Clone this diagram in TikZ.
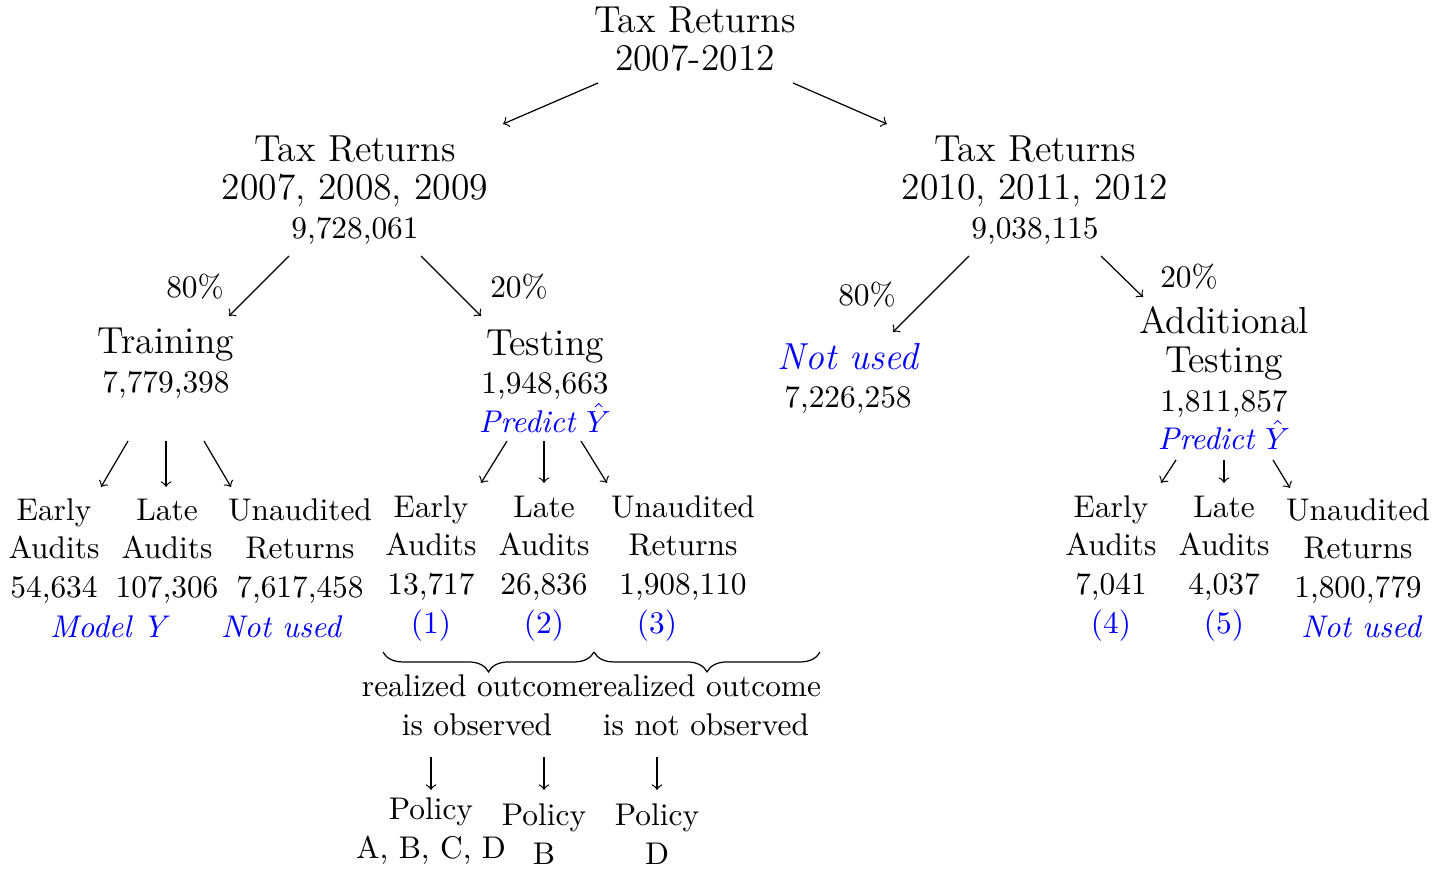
\documentclass[tikz,border=0pt]{standalone}
\usetikzlibrary{decorations.pathreplacing}
\newcommand{\bigf}{\fontsize{12.3}{12.6}\selectfont}
\begin{document}
\begin{tikzpicture}[x=0.32676pt,y=-0.32676pt,
  nd/.style={align=center,inner sep=0pt,font=\fontsize{10.25}{12.6}\selectfont},
  bl/.style={nd,text=blue,font=\fontsize{10.25}{12.6}\selectfont\itshape},
  arr/.style={->},
  brc/.style={decorate,decoration={brace,mirror,amplitude=6.5pt}}]
\useasboundingbox (0,0) rectangle (1446,869);
% level 0
\node[nd] (top) at (695,39) {{\bigf Tax Returns}\\{\bigf 2007-2012}};
% level 1
\node[nd] (L) at (355,190) {{\bigf Tax Returns}\\{\bigf 2007, 2008, 2009}\\9,728,061};
\node[nd] (R) at (1035,190) {{\bigf Tax Returns}\\{\bigf 2010, 2011, 2012}\\9,038,115};
\coordinate (t1) at (598,83); \coordinate (t1e) at (503,124);
\coordinate (t2) at (793,83); \coordinate (t2e) at (887,124);
\draw[arr] (t1) -- (t1e);
\draw[arr] (t2) -- (t2e);
% level 2
\node[nd] (train) at (166,363) {{\bigf Training}\\7,779,398};
\node[nd] (test) at (545,381) {{\bigf Testing}\\1,948,663\\{\color{blue}\itshape Predict $\hat{Y}$}};
\node[nd] (nuR) at (848,378.5) {{\bigf\color{blue}\itshape Not used}\\7,226,258};
\node[nd] (add) at (1224,378.5) {{\bigf Additional}\\{\bigf Testing}\\1,811,857\\{\color{blue}\itshape Predict $\hat{Y}$}};
\node[nd] (p1) at (195,287) {80\%};
\node[nd] (p2) at (519,287) {20\%};
\node[nd] (p3) at (867,295) {80\%};
\node[nd] (p4) at (1189,277) {20\%};
\coordinate (l1) at (289,256); \coordinate (l1e) at (229,316);
\coordinate (l2) at (421,256); \coordinate (l2e) at (481,316);
\coordinate (r1) at (969,256); \coordinate (r1e) at (893,332);
\coordinate (r2) at (1101,256); \coordinate (r2e) at (1143,297);
\draw[arr] (l1) -- (l1e);
\draw[arr] (l2) -- (l2e);
\draw[arr] (r1) -- (r1e);
\draw[arr] (r2) -- (r2e);
% training children
\node[nd] (tE) at (54,551) {Early\\Audits\\54,634};
\node[nd] (tL) at (167,551) {Late\\Audits\\107,306};
\node[nd] (tU) at (300,551) {Unaudited\\Returns\\7,617,458};
\node[bl] (tM) at (108,627) {Model Y};
\node[bl] (tN) at (281,627) {Not used};
\coordinate (a1) at (128,441); \coordinate (a1e) at (101,487);
\coordinate (a2) at (166,441); \coordinate (a2e) at (166,487);
\coordinate (a3) at (204,441); \coordinate (a3e) at (231,487);
\draw[arr] (a1) -- (a1e);
\draw[arr] (a2) -- (a2e);
\draw[arr] (a3) -- (a3e);
% testing children
\node[nd] (sE) at (431,548) {Early\\Audits\\13,717};
\node[nd] (sL) at (544,548) {Late\\Audits\\26,836};
\node[nd] (sU) at (683,548) {Unaudited\\Returns\\1,908,110};
\node[nd,text=blue] (n1) at (431,626) {(1)};
\node[nd,text=blue] (n2) at (544,626) {(2)};
\node[nd,text=blue] (n3) at (657,626) {(3)};
\coordinate (b1) at (507,441); \coordinate (b1e) at (481,483);
\coordinate (b2) at (544,441); \coordinate (b2e) at (544,483);
\coordinate (b3) at (581,441); \coordinate (b3e) at (607,483);
\draw[arr] (b1) -- (b1e);
\draw[arr] (b2) -- (b2e);
\draw[arr] (b3) -- (b3e);
% braces
\coordinate (br1) at (383,652); \coordinate (br2) at (594,652); \coordinate (br3) at (820,652);
\draw[brc] (br1) -- (br2);
\draw[brc] (br2) -- (br3);
\node[nd] (obs) at (477,705) {realized outcome\\is observed};
\node[nd] (nobs) at (706,705) {realized outcome\\is not observed};
% policies
\node[nd] (PA) at (431,831) {Policy\\A, B, C, D};
\node[nd] (PB) at (544,834) {Policy\\B};
\node[nd] (PD) at (657,834) {Policy\\D};
\coordinate (c1) at (431,757); \coordinate (c1e) at (431,790);
\coordinate (c2) at (544,757); \coordinate (c2e) at (544,790);
\coordinate (c3) at (657,757); \coordinate (c3e) at (657,790);
\draw[arr] (c1) -- (c1e);
\draw[arr] (c2) -- (c2e);
\draw[arr] (c3) -- (c3e);
% additional testing children
\node[nd] (aE) at (1111,548) {Early\\Audits\\7,041};
\node[nd] (aL) at (1224,548) {Late\\Audits\\4,037};
\node[nd] (aU) at (1358,551) {Unaudited\\Returns\\1,800,779};
\node[nd,text=blue] (n4) at (1111,626) {(4)};
\node[nd,text=blue] (n5) at (1224,626) {(5)};
\node[bl] (aN) at (1361,627) {Not used};
\coordinate (d1) at (1176,460); \coordinate (d1e) at (1161,483);
\coordinate (d2) at (1224,460); \coordinate (d2e) at (1224,483);
\coordinate (d3) at (1273,460); \coordinate (d3e) at (1290,488);
\draw[arr] (d1) -- (d1e);
\draw[arr] (d2) -- (d2e);
\draw[arr] (d3) -- (d3e);
\end{tikzpicture}
\end{document}
